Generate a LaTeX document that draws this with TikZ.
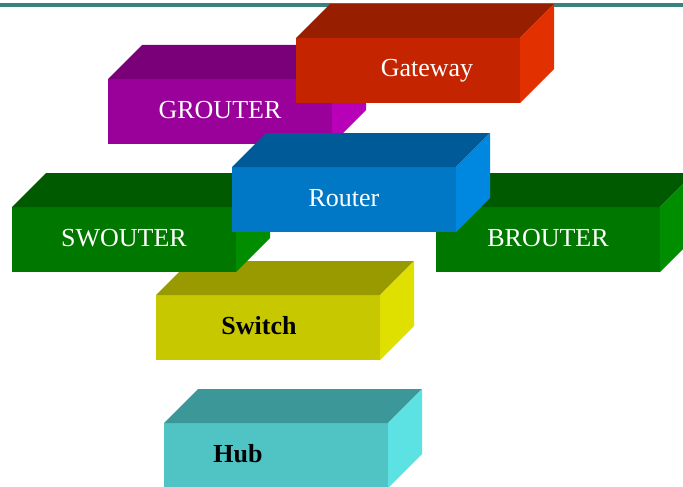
\documentclass[tikz,border=0pt]{standalone}
\usepackage{fontspec}
\setmainfont{Liberation Serif}
\usepackage{tikz}
\usetikzlibrary{calc}

\definecolor{barcol}{HTML}{3A8282}
\definecolor{gwfront}{HTML}{C42400}
\definecolor{gwtop}{HTML}{981E00}
\definecolor{gwside}{HTML}{E23000}
\definecolor{grfront}{HTML}{9A009A}
\definecolor{grtop}{HTML}{7A007A}
\definecolor{grside}{HTML}{B800B8}
\definecolor{rtfront}{HTML}{0078C6}
\definecolor{rttop}{HTML}{005A98}
\definecolor{rtside}{HTML}{0088E0}
\definecolor{gnfront}{HTML}{007800}
\definecolor{gntop}{HTML}{005A00}
\definecolor{gnside}{HTML}{008E00}
\definecolor{swfront}{HTML}{C8C800}
\definecolor{swtop}{HTML}{999900}
\definecolor{swside}{HTML}{E0E000}
\definecolor{hbfront}{HTML}{50C4C4}
\definecolor{hbtop}{HTML}{3C9898}
\definecolor{hbside}{HTML}{5CE2E2}

\tikzset{
  lightlabel/.style={text=white,font=\fontsize{26}{30}\selectfont,inner sep=0pt,anchor=base},
  darklabel/.style={text=black,font=\fontsize{26}{30}\selectfont\bfseries,inner sep=0pt,anchor=base}
}

% box: x, y (front top left), colour prefix, node name, label style, label shift, text
\newcommand{\netbox}[7]{%
  \fill[#3front] (#1,#2) rectangle ++(224,65);
  \fill[#3top] (#1,#2) -- ++(34,-34) -- ++(224,0) -- ++(-34,34) -- cycle;
  \fill[#3side] (#1+224,#2) -- ++(34,-34) -- ++(0,65) -- ++(-34,34) -- cycle;
  \node[#5] (#4) at (#1+112+#6,#2+39) {#7};
}

\begin{document}
\begin{tikzpicture}[x=1pt,y=-1pt]
  \useasboundingbox (0,0) rectangle (683,487);
  % bar along the top
  \fill[barcol] (0,3) rectangle (683,7);
  % lowest layers first
  \netbox{164}{423}{hb}{hub}{darklabel}{-38}{Hub}
  \netbox{156}{295}{sw}{switch}{darklabel}{-9}{Switch}
  % upper layers
  \netbox{108}{79}{gr}{grouter}{lightlabel}{0}{GROUTER}
  \netbox{296}{38}{gw}{gateway}{lightlabel}{19}{Gateway}
  \netbox{12}{207}{gn}{swouter}{lightlabel}{0}{SWOUTER}
  \netbox{436}{207}{gn}{brouter}{lightlabel}{0}{BROUTER}
  \netbox{232}{167}{rt}{router}{lightlabel}{0}{Router}
\end{tikzpicture}
\end{document}
